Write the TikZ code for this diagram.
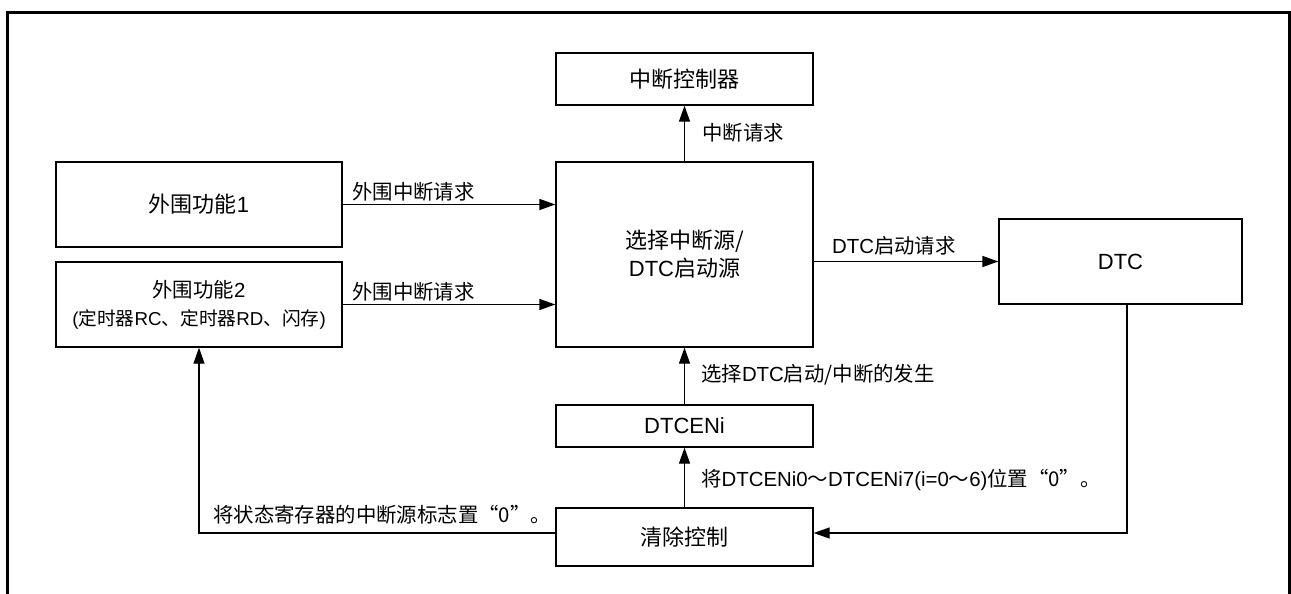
\documentclass[tikz,border=0pt]{standalone}
\usepackage{fontspec}
\setmainfont{Liberation Sans}
\newfontfamily\cjk{Noto Sans CJK SC}
\usetikzlibrary{arrows.meta}

\tikzset{
  blk/.style={draw, line width=1.3pt, inner sep=0pt, align=center,
    font=\fontsize{22}{28}\selectfont},
  lab/.style={anchor=west, inner sep=0pt, font=\fontsize{20.4}{25}\selectfont},
  arr/.style={line width=1.3pt, -{Triangle[length=16pt,width=11pt]}},
}

\begin{document}
\begin{tikzpicture}[x=1pt,y=-1pt]
\useasboundingbox (0,0) rectangle (1291,594);

%frame:
\draw[line width=3pt] (7,594) -- (7,13) -- (1289,13) -- (1289,594);

%blocks:
\node[blk, minimum width=257pt, minimum height=52pt] (ctrl) at (684.5,79) {{\cjk 中断控制器}};
\node[blk, minimum width=257pt, minimum height=185pt] (sel) at (684.5,254.5)
  {{\cjk 选择中断源/}\\DTC{\cjk 启动源}};
\node[blk, minimum width=286pt, minimum height=85pt] (perA) at (199,204.5) {{\cjk 外围功能}1};
\node[blk, minimum width=286pt, minimum height=85pt] (perB) at (199,304.5)
  {\fontsize{20.4}{25}\selectfont{\cjk 外围功能}2\\
   \fontsize{18.7}{25}\selectfont({\cjk 定时器}RC{\cjk 、定时器}RD{\cjk 、闪存})};
\node[blk, minimum width=243pt, minimum height=85pt] (dtc) at (1120.5,261.5) {DTC};
\node[blk, minimum width=257pt, minimum height=42pt] (en) at (684.5,426) {DTCENi};
\node[blk, minimum width=257pt, minimum height=58pt] (clr) at (684.5,537) {{\cjk 清除控制}};

\coordinate (dn) at (1127,533);
\coordinate (up) at (199,533);

%connectors:
\draw[arr] (perA.east) -- (perA.east -| sel.west);
\draw[arr] (perB.east) -- (perB.east -| sel.west);
\draw[arr] (sel.north) -- (ctrl.south);
\draw[arr] (sel.east |- dtc.west) -- (dtc.west);
\draw[arr] (en.north) -- (sel.south);
\draw[arr] (clr.north) -- (en.south);
\draw[arr] (dtc.south -| dn) -- (dn) -- (clr.east |- dn);
\draw[arr] (clr.west |- up) -- (up) -- (up |- perB.south);

%labels:
\node[lab] at (352,192) {{\cjk 外围中断请求}};
\node[lab] at (352,292) {{\cjk 外围中断请求}};
\node[lab] at (702,133) {{\cjk 中断请求}};
\node[lab] at (832,246) {DTC{\cjk 启动请求}};
\node[lab] at (701,375) {{\cjk 选择}DTC{\cjk 启动/中断的发生}};
\node[lab] at (701,480) {{\cjk 将}DTCENi0{\cjk ～}DTCENi7(i=0{\cjk ～}6){\cjk 位置“0”。}};
\node[lab] at (213,515) {{\cjk 将状态寄存器的中断源标志置“0”。}};

\end{tikzpicture}
\end{document}
